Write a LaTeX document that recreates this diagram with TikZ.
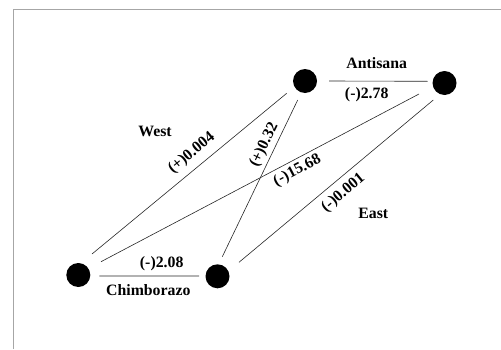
\documentclass[tikz,border=0pt]{standalone}
\usepackage{fontspec}
\setmainfont{Liberation Serif}
\usetikzlibrary{calc}

\begin{document}
\begin{tikzpicture}[x=1bp,y=1bp,
    site/.style={circle,fill=black,minimum size=24bp,inner sep=0pt},
    link/.style={line width=0.6bp,black!85},
    lab/.style={font=\fontsize{15.8bp}{18bp}\selectfont\bfseries,inner sep=0pt}]
    \useasboundingbox (0,0) rectangle (501,349);
    % frame
    \draw[gray!70,line width=0.8bp] (13,0) -- (13,339.7) -- (501,339.7);
    % the four sites
    \node[site] (bl) at (78.3,74) {};
    \node[site] (bm) at (217.5,72.7) {};
    \node[site] (tl) at (305,268) {};
    \node[site] (tr) at (444.5,266) {};
    % links
    \draw[link] ($(tl)+(24,0)$) -- ($(tr)+(-16.8,1.7)$);
    \draw[link] ($(bl)+(21,-1)$) -- ($(bm)+(-18.5,0.3)$);
    \draw[link] ($(bl)+(13.7,21)$) -- ($(tl)+(-18.3,-12.3)$);
    \draw[link] ($(bl)+(22.7,13.3)$) -- ($(tr)+(-25.5,-11)$);
    \draw[link] ($(bm)+(4.8,19.6)$) -- ($(tl)+(-7.3,-19)$);
    \draw[link] ($(bm)+(21.5,14)$) -- ($(tr)+(-11.2,-17)$);
    % labels
    \node[lab] (antisana) at (376.7,285.7) {Antisana};
    \node[lab] (v278) at (366.7,254) {(-)2.78};
    \node[lab] (west) at (155,218) {West};
    \node[lab,rotate=39.5] (v0004) at (191.7,195.7) {(+)0.004};
    \node[lab,rotate=64.3] (v032) at (264.3,204) {(+)0.32};
    \node[lab,rotate=27.8] (v1568) at (297.3,178.3) {(-)15.68};
    \node[lab,rotate=39.9] (v0001) at (343.3,155.7) {(-)0.001};
    \node[lab] (east) at (373.3,135.7) {East};
    \node[lab] (v208) at (161.7,85.7) {(-)2.08};
    \node[lab] (chimborazo) at (148.3,59) {Chimborazo};
\end{tikzpicture}
\end{document}
